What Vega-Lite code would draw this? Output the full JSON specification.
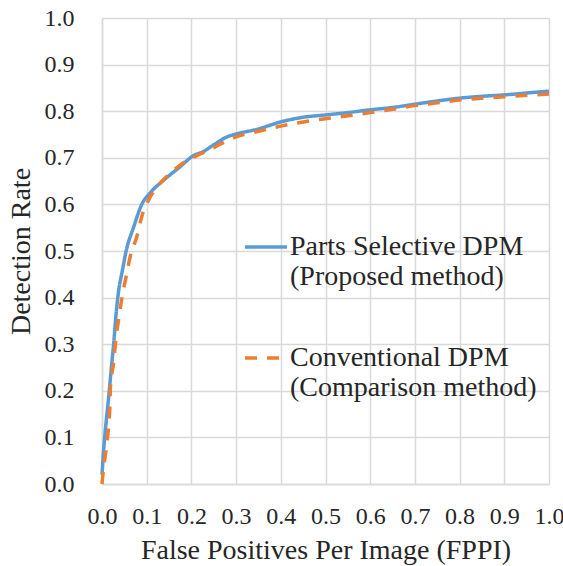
{
  "$schema": "https://vega.github.io/schema/vega-lite/v6.json",
  "width": 447,
  "height": 466,
  "autosize": "none",
  "padding": {"left": 102, "top": 18, "right": 14, "bottom": 82},
  "background": "white",
  "config": {
    "view": {"stroke": null},
    "font": "Liberation Serif, Times New Roman, serif",
    "style": {
      "guide-label": {"font": "Liberation Serif, Times New Roman, serif"},
      "guide-title": {"font": "Liberation Serif, Times New Roman, serif"}
    },
    "axis": {
      "labelFont": "Liberation Serif, Times New Roman, serif",
      "titleFont": "Liberation Serif, Times New Roman, serif",
      "labelColor": "#262626",
      "titleColor": "#262626",
      "labelFontSize": 24,
      "titleFontSize": 28,
      "titleFontWeight": "normal",
      "gridColor": "#d9d9d9",
      "gridWidth": 1.5,
      "domainColor": "#d9d9d9",
      "domainWidth": 1.5,
      "ticks": false
    },
    "legend": {
      "labelFont": "Liberation Serif, Times New Roman, serif",
      "labelFontSize": 28,
      "labelColor": "#262626"
    }
  },
  "data": {
    "values": [
      {"method": "Parts Selective DPM", "fppi": 0.0, "rate": 0.02},
      {"method": "Parts Selective DPM", "fppi": 0.002, "rate": 0.05},
      {"method": "Parts Selective DPM", "fppi": 0.006, "rate": 0.1},
      {"method": "Parts Selective DPM", "fppi": 0.01, "rate": 0.14},
      {"method": "Parts Selective DPM", "fppi": 0.015, "rate": 0.187},
      {"method": "Parts Selective DPM", "fppi": 0.021, "rate": 0.25},
      {"method": "Parts Selective DPM", "fppi": 0.026, "rate": 0.3},
      {"method": "Parts Selective DPM", "fppi": 0.032, "rate": 0.37},
      {"method": "Parts Selective DPM", "fppi": 0.038, "rate": 0.42},
      {"method": "Parts Selective DPM", "fppi": 0.045, "rate": 0.455},
      {"method": "Parts Selective DPM", "fppi": 0.054, "rate": 0.5},
      {"method": "Parts Selective DPM", "fppi": 0.071, "rate": 0.552},
      {"method": "Parts Selective DPM", "fppi": 0.089, "rate": 0.6},
      {"method": "Parts Selective DPM", "fppi": 0.108, "rate": 0.625},
      {"method": "Parts Selective DPM", "fppi": 0.138, "rate": 0.652},
      {"method": "Parts Selective DPM", "fppi": 0.175, "rate": 0.681},
      {"method": "Parts Selective DPM", "fppi": 0.205, "rate": 0.705},
      {"method": "Parts Selective DPM", "fppi": 0.226, "rate": 0.713},
      {"method": "Parts Selective DPM", "fppi": 0.25, "rate": 0.728},
      {"method": "Parts Selective DPM", "fppi": 0.28, "rate": 0.745},
      {"method": "Parts Selective DPM", "fppi": 0.3, "rate": 0.751},
      {"method": "Parts Selective DPM", "fppi": 0.35, "rate": 0.762},
      {"method": "Parts Selective DPM", "fppi": 0.4, "rate": 0.777},
      {"method": "Parts Selective DPM", "fppi": 0.45, "rate": 0.787},
      {"method": "Parts Selective DPM", "fppi": 0.5, "rate": 0.792},
      {"method": "Parts Selective DPM", "fppi": 0.55, "rate": 0.797},
      {"method": "Parts Selective DPM", "fppi": 0.6, "rate": 0.803},
      {"method": "Parts Selective DPM", "fppi": 0.65, "rate": 0.808},
      {"method": "Parts Selective DPM", "fppi": 0.7, "rate": 0.815},
      {"method": "Parts Selective DPM", "fppi": 0.75, "rate": 0.822},
      {"method": "Parts Selective DPM", "fppi": 0.8, "rate": 0.828},
      {"method": "Parts Selective DPM", "fppi": 0.85, "rate": 0.832},
      {"method": "Parts Selective DPM", "fppi": 0.9, "rate": 0.835},
      {"method": "Parts Selective DPM", "fppi": 0.95, "rate": 0.839},
      {"method": "Parts Selective DPM", "fppi": 1.0, "rate": 0.843},
      {"method": "Conventional DPM", "fppi": 0.0, "rate": 0.0},
      {"method": "Conventional DPM", "fppi": 0.003, "rate": 0.03},
      {"method": "Conventional DPM", "fppi": 0.007, "rate": 0.059},
      {"method": "Conventional DPM", "fppi": 0.013, "rate": 0.105},
      {"method": "Conventional DPM", "fppi": 0.017, "rate": 0.152},
      {"method": "Conventional DPM", "fppi": 0.019, "rate": 0.209},
      {"method": "Conventional DPM", "fppi": 0.026, "rate": 0.26},
      {"method": "Conventional DPM", "fppi": 0.031, "rate": 0.31},
      {"method": "Conventional DPM", "fppi": 0.037, "rate": 0.352},
      {"method": "Conventional DPM", "fppi": 0.045, "rate": 0.402},
      {"method": "Conventional DPM", "fppi": 0.054, "rate": 0.445},
      {"method": "Conventional DPM", "fppi": 0.063, "rate": 0.488},
      {"method": "Conventional DPM", "fppi": 0.078, "rate": 0.531},
      {"method": "Conventional DPM", "fppi": 0.089, "rate": 0.574},
      {"method": "Conventional DPM", "fppi": 0.104, "rate": 0.609},
      {"method": "Conventional DPM", "fppi": 0.127, "rate": 0.642},
      {"method": "Conventional DPM", "fppi": 0.153, "rate": 0.667},
      {"method": "Conventional DPM", "fppi": 0.186, "rate": 0.692},
      {"method": "Conventional DPM", "fppi": 0.224, "rate": 0.71},
      {"method": "Conventional DPM", "fppi": 0.25, "rate": 0.722},
      {"method": "Conventional DPM", "fppi": 0.3, "rate": 0.745},
      {"method": "Conventional DPM", "fppi": 0.35, "rate": 0.757},
      {"method": "Conventional DPM", "fppi": 0.4, "rate": 0.768},
      {"method": "Conventional DPM", "fppi": 0.45, "rate": 0.777},
      {"method": "Conventional DPM", "fppi": 0.5, "rate": 0.784},
      {"method": "Conventional DPM", "fppi": 0.55, "rate": 0.79},
      {"method": "Conventional DPM", "fppi": 0.6, "rate": 0.797},
      {"method": "Conventional DPM", "fppi": 0.65, "rate": 0.804},
      {"method": "Conventional DPM", "fppi": 0.7, "rate": 0.812},
      {"method": "Conventional DPM", "fppi": 0.75, "rate": 0.818},
      {"method": "Conventional DPM", "fppi": 0.8, "rate": 0.824},
      {"method": "Conventional DPM", "fppi": 0.85, "rate": 0.828},
      {"method": "Conventional DPM", "fppi": 0.9, "rate": 0.831},
      {"method": "Conventional DPM", "fppi": 0.95, "rate": 0.834},
      {"method": "Conventional DPM", "fppi": 1.0, "rate": 0.837}
    ]
  },
  "mark": {"type": "line", "strokeWidth": 3.5, "interpolate": "monotone"},
  "encoding": {
    "x": {
      "field": "fppi",
      "type": "quantitative",
      "scale": {"domain": [0, 1], "nice": false},
      "axis": {
        "title": "False Positives Per Image (FPPI)",
        "values": [0, 0.1, 0.2, 0.3, 0.4, 0.5, 0.6, 0.7, 0.8, 0.9, 1.0],
        "format": ".1f",
        "labelPadding": 20,
        "titlePadding": 8,
        "labelFlush": false,
        "labelOverlap": false
      }
    },
    "y": {
      "field": "rate",
      "type": "quantitative",
      "scale": {"domain": [0, 1], "nice": false},
      "axis": {
        "title": "Detection Rate",
        "values": [0, 0.1, 0.2, 0.3, 0.4, 0.5, 0.6, 0.7, 0.8, 0.9, 1.0],
        "format": ".1f",
        "labelPadding": 28,
        "titlePadding": 9,
        "labelFlush": false,
        "labelOverlap": false
      }
    },
    "color": {
      "field": "method",
      "type": "nominal",
      "sort": ["Parts Selective DPM", "Conventional DPM"],
      "scale": {"domain": ["Parts Selective DPM", "Conventional DPM"], "range": ["#5b9bd5", "#ed7d31"]},
      "legend": {
        "title": null,
        "orient": "none",
        "legendX": 141,
        "legendY": 206,
        "symbolType": "stroke",
        "symbolSize": 1764,
        "symbolStrokeWidth": 3.5,
        "labelExpr": "datum.label == 'Parts Selective DPM' ? ['Parts Selective DPM', '(Proposed method)'] : ['Conventional DPM', '(Comparison method)']",
        "labelLineHeight": 33,
        "labelBaseline": "middle",
        "labelOffset": 1,
        "rowPadding": 44,
        "labelLimit": 400
      }
    },
    "strokeDash": {
      "field": "method",
      "type": "nominal",
      "sort": ["Parts Selective DPM", "Conventional DPM"],
      "scale": {"domain": ["Parts Selective DPM", "Conventional DPM"], "range": [[1, 0], [12, 10]]},
      "legend": {
        "title": null,
        "orient": "none",
        "legendX": 141,
        "legendY": 206,
        "symbolType": "stroke",
        "symbolSize": 1764,
        "symbolStrokeWidth": 3.5,
        "labelExpr": "datum.label == 'Parts Selective DPM' ? ['Parts Selective DPM', '(Proposed method)'] : ['Conventional DPM', '(Comparison method)']",
        "labelLineHeight": 33,
        "labelBaseline": "middle",
        "labelOffset": 1,
        "rowPadding": 44,
        "labelLimit": 400
      }
    }
  }
}
